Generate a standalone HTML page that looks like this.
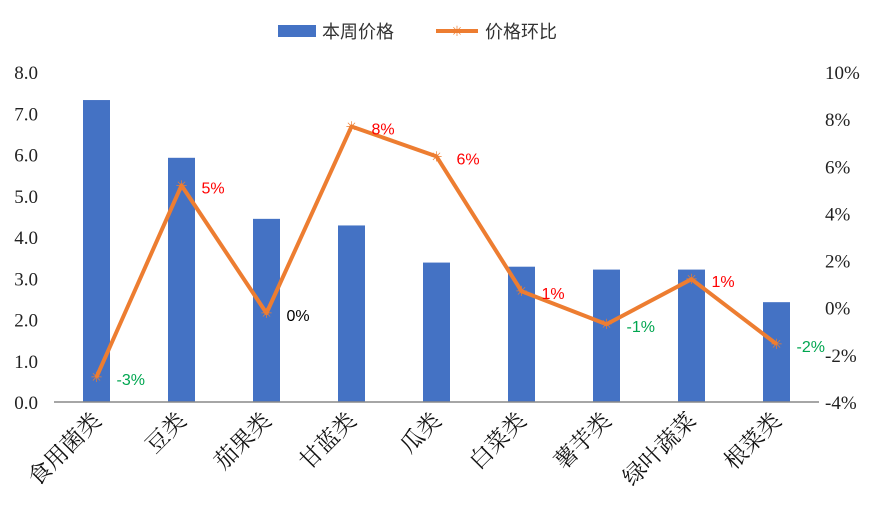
<!DOCTYPE html>
<html><head><meta charset="utf-8"><style>
body{margin:0;background:#fff;}
svg{display:block;font-family:"Liberation Serif","Noto Serif CJK SC",serif;}
</style></head><body>
<svg id="chart" width="877" height="521">
<g id="legend">
<rect x="278" y="25" width="38" height="12" fill="#4472c4"/>
<text x="322" y="38" font-size="18" font-family="Noto Sans CJK SC, sans-serif" fill="#333">本周价格</text>
<line x1="436" y1="31" x2="478" y2="31" stroke="#ed7d31" stroke-width="4"/>
<text x="457" y="36" font-size="14" text-anchor="middle" fill="#ed7d31">✳</text>
<text x="485" y="38" font-size="18" font-family="Noto Sans CJK SC, sans-serif" fill="#333">价格环比</text>
</g>
<g id="plot"></g>
</svg>
<script>
const categories=["食用菌类","豆类","茄果类","甘蓝类","瓜类","白菜类","薯芋类","绿叶蔬菜","根菜类"];
const prices=[7.32,5.92,4.44,4.28,3.38,3.28,3.21,3.21,2.42];
const changes=[-2.94,5.19,-0.23,7.69,6.42,0.7,-0.7,1.21,-1.54];
const changeLabels=["-3%","5%","0%","8%","6%","1%","-1%","1%","-2%"];
const leftTicks=["0.0","1.0","2.0","3.0","4.0","5.0","6.0","7.0","8.0"];
const rightTicks=["-4%","-2%","0%","2%","4%","6%","8%","10%"];
const NS="http://www.w3.org/2000/svg";
const g=document.getElementById('plot');
const X0=54,X1=819,Y0=402,Y1=72;
const xs=i=>X0+(X1-X0)/categories.length*(i+0.5);
const yL=v=>Y0-(Y0-Y1)*v/8;
const yR=v=>Y0-(Y0-Y1)*(v+4)/14;
function mk(t,a){const e=document.createElementNS(NS,t);for(const k in a)e.setAttribute(k,a[k]);g.appendChild(e);return e;}
leftTicks.forEach((t,i)=>{const e=mk('text',{x:38,y:yL(i)+7,'font-size':19,'text-anchor':'end',fill:'#222'});e.textContent=t;

});
rightTicks.forEach((t,i)=>{const e=mk('text',{x:825,y:yR(-4+2*i)+7,'font-size':19,fill:'#222'});e.textContent=t;

});
prices.forEach((v,i)=>{const r=mk('rect',{x:xs(i)-13.5,y:yL(v),width:27,height:Y0-yL(v),fill:'#4472c4'});

});
const ax=mk('line',{x1:X0,y1:Y0,x2:X1,y2:Y0,stroke:'#888','stroke-width':1.5});


const pts=changes.map((v,i)=>xs(i)+','+yR(v)).join(' ');
const pl=mk('polyline',{points:pts,fill:'none',stroke:'#ed7d31','stroke-width':4,'stroke-linejoin':'round'});


changes.forEach((v,i)=>{const m=mk('text',{x:xs(i),y:yR(v)+5,'font-size':14,'text-anchor':'middle',fill:'#ed7d31'});m.textContent='✳';


const c=v>0.5?'#ff0000':(v<-0.5?'#00a650':'#000');
const l=mk('text',{x:xs(i)+20,y:yR(v)+8,'font-size':16,fill:c,'font-family':'Liberation Sans, sans-serif'});l.textContent=changeLabels[i];

});
categories.forEach((c,i)=>{const x=xs(i)+6,y=422;const t=mk('text',{x:x,y:y,'font-size':23,'text-anchor':'end',fill:'#111',transform:`rotate(-45 ${x} ${y})`,'font-family':'Noto Serif CJK SC, serif'});t.textContent=c;

});
</script>
</body></html>
